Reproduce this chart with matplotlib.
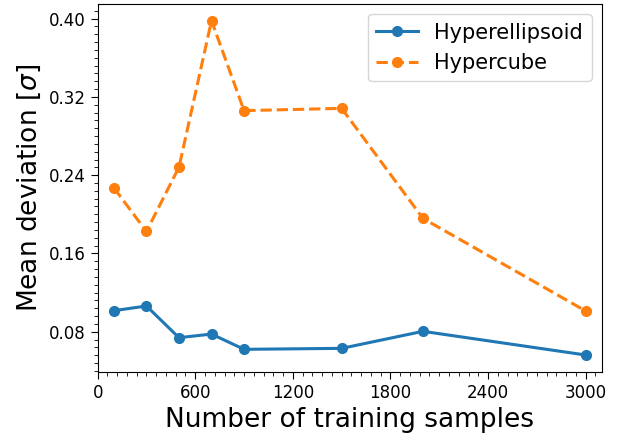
import matplotlib
matplotlib.use("Agg")
import matplotlib.pyplot as plt
from matplotlib.ticker import MultipleLocator, AutoMinorLocator

# training set sizes and mean deviation (in units of sigma)
n_samples = [100, 300, 500, 700, 900, 1500, 2000, 3000]
dev_ellipsoid = [0.1015, 0.1063, 0.0739, 0.0776, 0.0620, 0.0630, 0.0804, 0.0562]
dev_cube = [0.2270, 0.1825, 0.2482, 0.3980, 0.3060, 0.3083, 0.1958, 0.1012]

fig = plt.figure(figsize=(6.18, 4.34), dpi=100)
ax = fig.add_axes([0.158, 0.1435, 0.816, 0.8475])

ax.plot(n_samples, dev_ellipsoid, marker='o', linestyle='-', lw=2.2, ms=7,
        color='#1f77b4', label='Hyperellipsoid')
ax.plot(n_samples, dev_cube, marker='o', linestyle='--', lw=2.2, ms=7,
        color='#ff7f0e', label='Hypercube')

ax.set_xlim(0, 3100)
ax.xaxis.set_major_locator(MultipleLocator(600))
ax.xaxis.set_minor_locator(AutoMinorLocator(10))
ax.yaxis.set_major_locator(MultipleLocator(0.08))
ax.yaxis.set_minor_locator(AutoMinorLocator(10))
ax.tick_params(which='major', labelsize=12, length=5)
ax.tick_params(which='minor', length=3)

ax.set_xlabel("Number of training samples", fontsize=19)
ax.set_ylabel(r"Mean deviation [$\sigma$]", fontsize=19)
ax.legend(fontsize=15, loc='upper right')

fig.savefig("out.png", dpi=100)
